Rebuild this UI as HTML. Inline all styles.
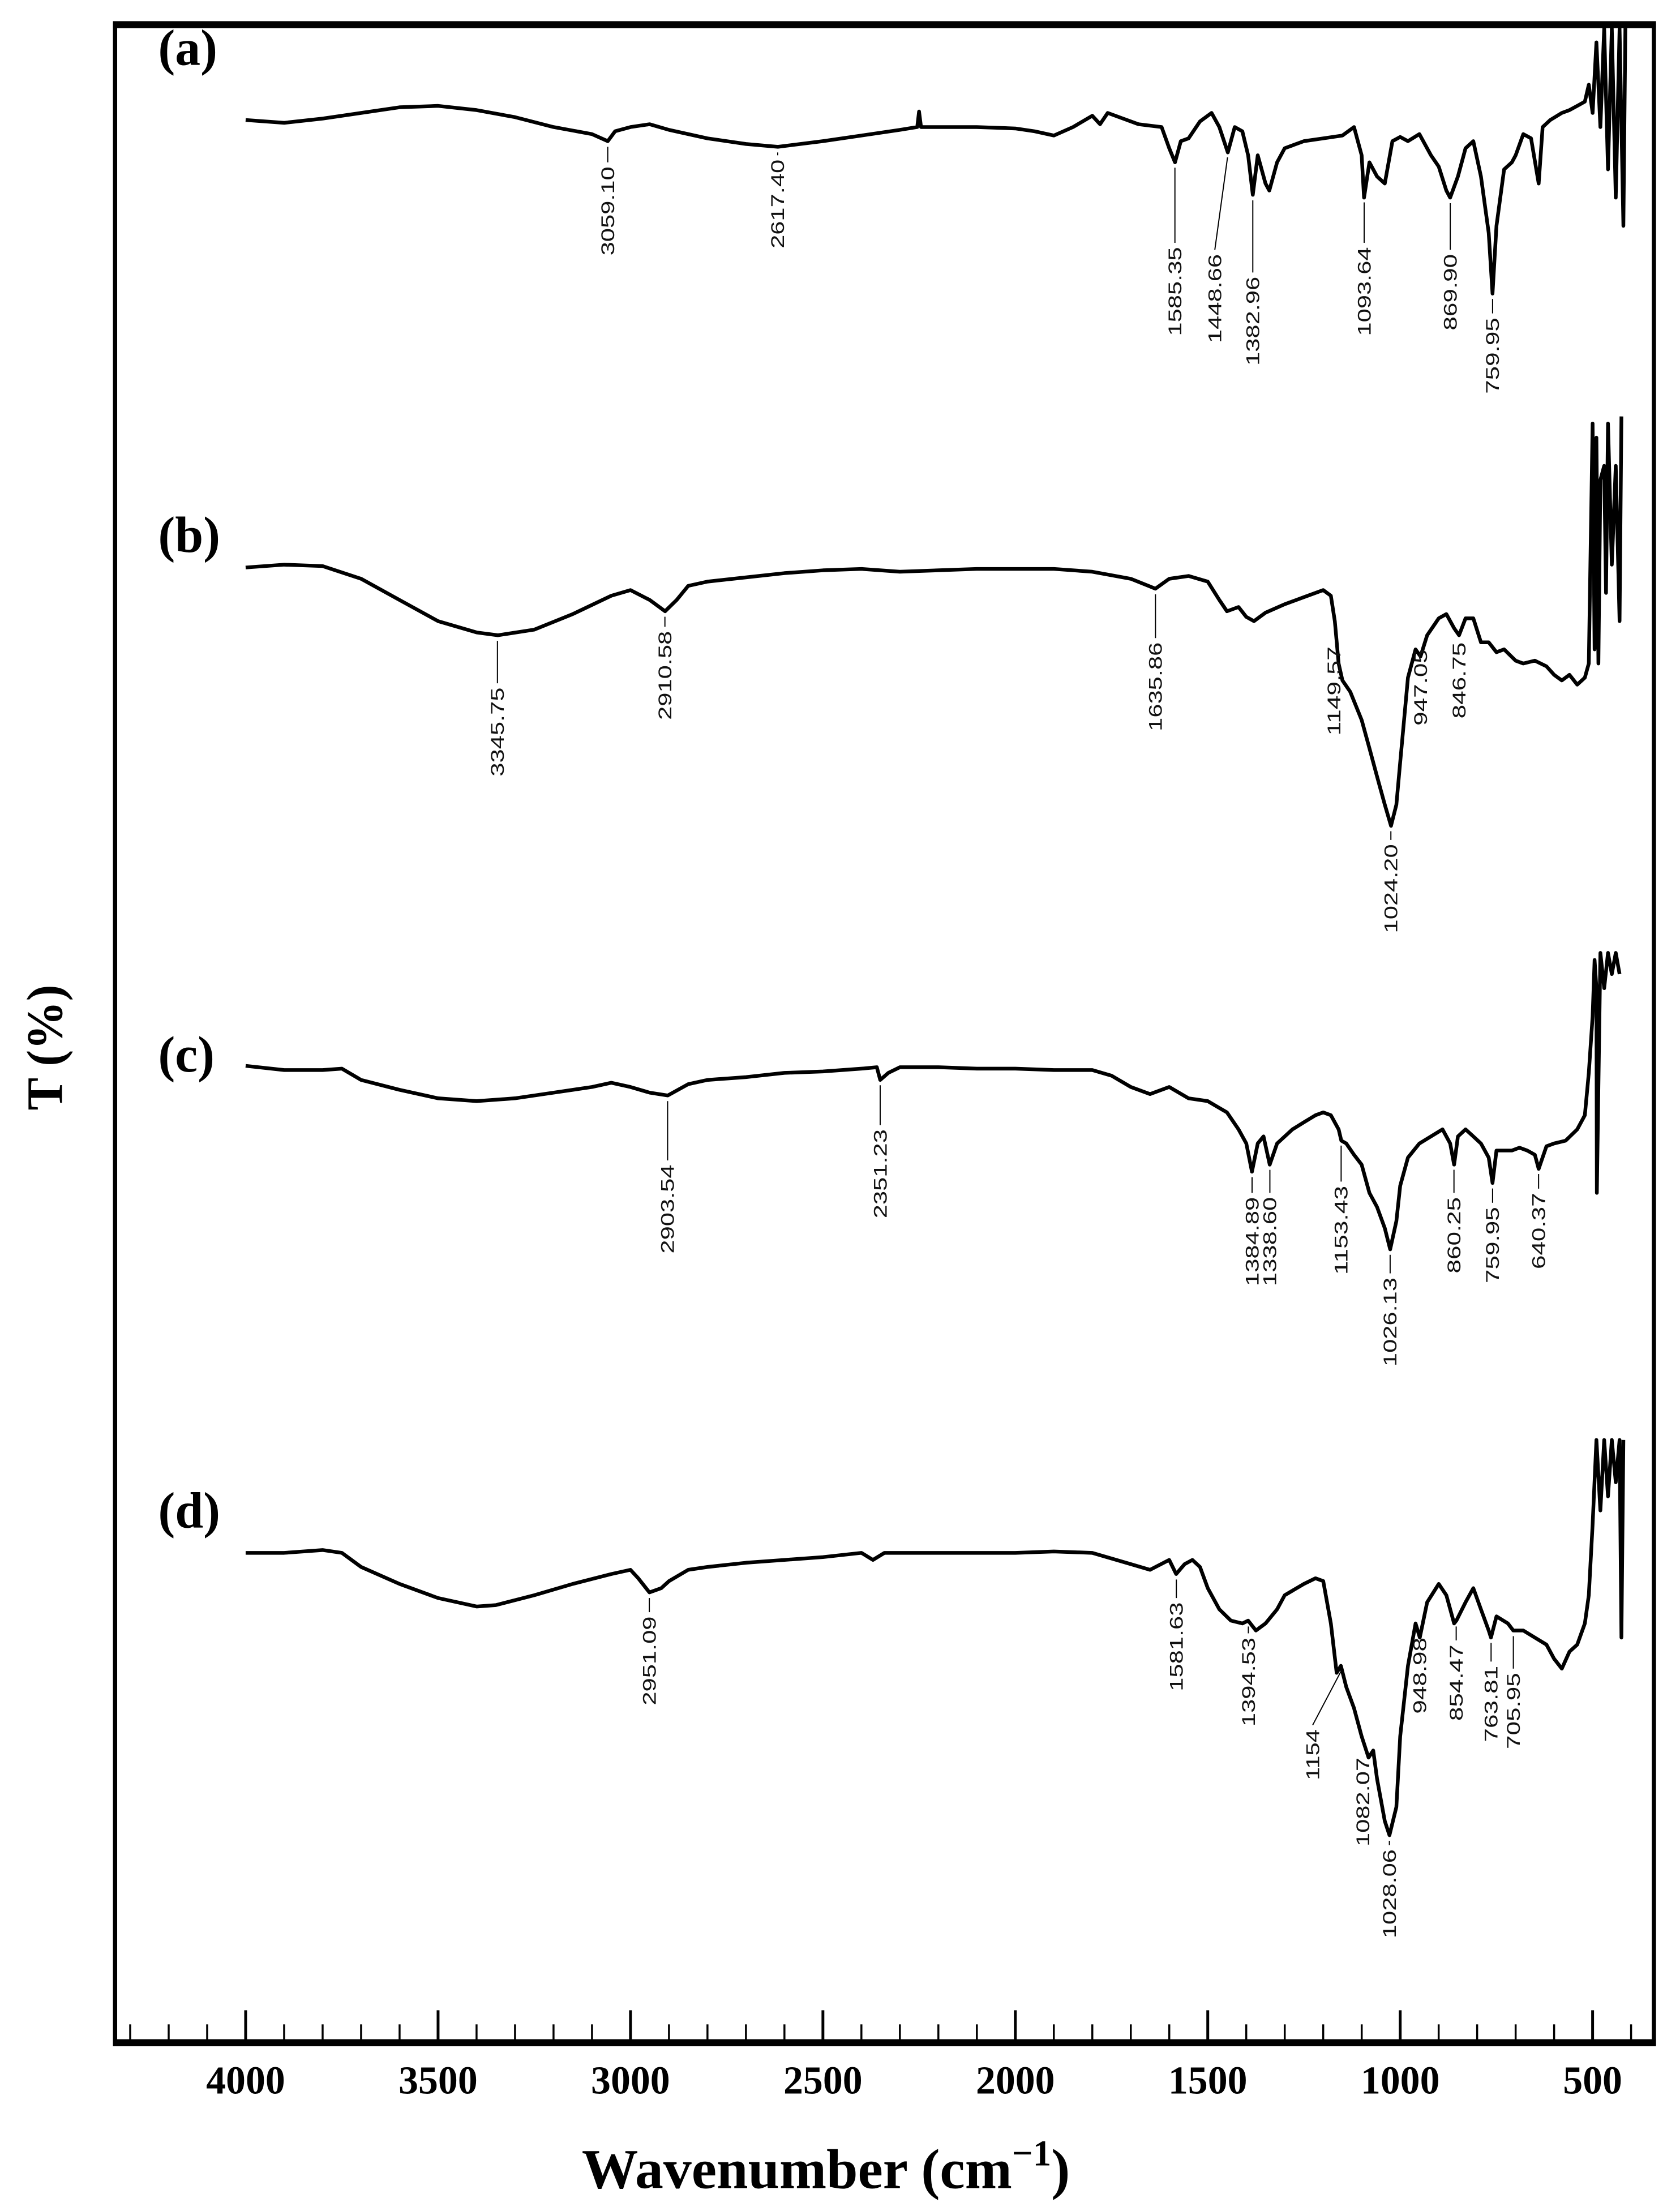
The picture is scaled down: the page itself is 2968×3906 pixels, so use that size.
<!DOCTYPE html>
<html><head><meta charset="utf-8"><style>
html,body{margin:0;padding:0;background:#fff}
svg{display:block}
</style></head><body>
<svg id="chart" width="2968" height="3906" viewBox="0 0 1190 1566.2" preserveAspectRatio="none" xmlns="http://www.w3.org/2000/svg">
<rect x="0" y="0" width="1190" height="1567" fill="#fff"/>
<g id="frame"></g>
<g id="ticks"></g>
<g id="spectra"></g>
<g id="annots"></g>
<text transform="translate(44,742) rotate(-90)" text-anchor="middle" font-family="Liberation Serif, serif" font-weight="bold" font-size="36" textLength="89" lengthAdjust="spacingAndGlyphs">T (%)</text>
<text x="585" y="1550" text-anchor="middle" font-family="Liberation Serif, serif" font-weight="bold" font-size="40">Wavenumber (cm<tspan dy="-16" font-size="26">−1</tspan><tspan dy="16">)</tspan></text>
<text x="112" y="46" font-family="Liberation Serif, serif" font-weight="bold" font-size="36">(a)</text>
<text x="112" y="391" font-family="Liberation Serif, serif" font-weight="bold" font-size="36">(b)</text>
<text x="112" y="759" font-family="Liberation Serif, serif" font-weight="bold" font-size="36">(c)</text>
<text x="112" y="1082" font-family="Liberation Serif, serif" font-weight="bold" font-size="36">(d)</text>
</svg>
<script>
const tickValues = [4000,3500,3000,2500,2000,1500,1000,500];
const tickLabels = ["4000","3500","3000","2500","2000","1500","1000","500"];

const wA = [4000,3900,3800,3700,3600,3500,3400,3300,3200,3100,3059,3040,3000,2950,2900,2800,2700,2617,2500,2400,2300,2255,2250,2245,2200,2100,2000,1950,1900,1850,1800,1780,1760,1720,1680,1620,1600,1585,1570,1550,1520,1490,1470,1448,1430,1410,1395,1383,1370,1350,1340,1320,1300,1250,1200,1150,1120,1100,1094,1080,1060,1040,1020,1000,980,950,920,900,880,870,850,830,810,790,770,760,750,730,710,700,680,660,640,630,610,580,560,540,520,510,500,490,480,470,460,450,440,430,420,415];
const tA = [0,-2,1,5,9,10,7,2,-5,-10,-15,-8,-5,-3,-7,-13,-17,-19,-15,-11,-7,-5,6,-5,-5,-5,-6,-8,-11,-5,3,-3,5,1,-3,-5,-20,-30,-15,-13,-1,5,-5,-23,-5,-8,-25,-53,-25,-45,-50,-30,-20,-15,-13,-11,-5,-25,-55,-30,-40,-45,-15,-12,-15,-10,-25,-33,-50,-55,-40,-20,-15,-40,-80,-123,-75,-35,-30,-25,-10,-13,-45,-5,0,5,7,10,13,25,5,55,-5,65,-35,65,-55,65,-75,65];

const wB = [4000,3900,3800,3700,3600,3500,3400,3345,3250,3150,3050,3000,2950,2910,2880,2850,2800,2700,2600,2500,2400,2300,2200,2100,2000,1900,1800,1700,1636,1600,1550,1500,1470,1450,1420,1400,1380,1350,1300,1250,1200,1180,1170,1160,1150,1130,1100,1080,1060,1040,1024,1010,1000,980,960,947,930,900,880,860,847,830,810,790,770,750,730,700,680,650,620,600,580,560,540,520,510,500,495,490,485,480,470,465,460,450,440,430,425];
const tB = [-2,0,-1,-10,-25,-40,-48,-50,-46,-35,-22,-18,-25,-33,-25,-15,-12,-9,-6,-4,-3,-5,-4,-3,-3,-3,-5,-10,-17,-10,-8,-12,-25,-33,-30,-37,-40,-34,-28,-23,-18,-22,-40,-70,-82,-90,-110,-130,-150,-170,-185,-170,-140,-80,-60,-65,-50,-38,-35,-45,-50,-38,-38,-55,-55,-62,-60,-68,-70,-68,-72,-78,-82,-78,-85,-80,-70,100,-60,90,-70,60,70,-20,100,0,70,-40,105];

const wC = [4000,3900,3800,3750,3700,3600,3500,3400,3300,3200,3100,3050,3000,2950,2903,2850,2800,2700,2600,2500,2400,2360,2351,2330,2300,2200,2100,2000,1900,1800,1750,1700,1650,1600,1550,1500,1450,1420,1400,1385,1370,1355,1339,1320,1280,1250,1220,1200,1180,1160,1153,1140,1120,1100,1080,1060,1040,1026,1010,1000,980,950,920,890,870,860,850,830,810,790,770,760,750,730,710,690,670,650,640,620,600,570,540,520,510,500,495,490,489,480,470,460,450,440,430];
const tC = [0,-3,-3,-2,-10,-17,-23,-25,-23,-19,-15,-12,-15,-19,-21,-13,-10,-8,-5,-4,-2,-1,-10,-5,-1,-1,-2,-2,-3,-3,-7,-15,-20,-15,-23,-25,-33,-45,-55,-75,-55,-50,-70,-55,-45,-40,-35,-33,-35,-45,-53,-55,-63,-70,-90,-100,-115,-130,-110,-85,-65,-55,-50,-45,-55,-70,-50,-45,-50,-55,-65,-83,-60,-60,-60,-58,-60,-63,-73,-57,-55,-53,-45,-35,-5,35,75,55,-90,80,55,80,65,80,65];

const wD = [4000,3900,3800,3750,3700,3600,3500,3400,3350,3250,3150,3050,3000,2980,2951,2920,2900,2850,2800,2700,2600,2500,2400,2370,2340,2300,2200,2100,2000,1900,1800,1700,1650,1600,1582,1560,1540,1520,1500,1470,1440,1410,1395,1375,1350,1320,1300,1250,1220,1200,1180,1165,1154,1140,1120,1100,1082,1070,1060,1040,1028,1010,1000,980,960,949,930,900,880,860,854,830,810,790,770,764,750,720,706,680,650,620,600,580,560,540,520,510,500,490,480,470,460,450,440,430,425,420];
const tD = [0,0,2,0,-10,-22,-32,-38,-37,-30,-22,-15,-12,-18,-28,-25,-20,-12,-10,-7,-5,-3,0,-5,0,0,0,0,0,1,0,-8,-12,-5,-15,-8,-5,-10,-25,-40,-48,-50,-48,-55,-50,-40,-30,-22,-18,-20,-50,-85,-80,-95,-110,-130,-145,-140,-160,-190,-200,-180,-130,-80,-50,-60,-35,-22,-30,-50,-48,-35,-25,-40,-55,-60,-45,-50,-55,-55,-60,-65,-75,-82,-70,-65,-50,-30,20,80,30,80,40,80,50,80,-60,80];

const peaksA = ["3059.10","2617.40","1585.35","1448.66","1382.96","1093.64","869.90","759.95"];
const peakWA = [3059.10,2617.40,1585.35,1448.66,1382.96,1093.64,869.90,759.95];
const peaksB = ["3345.75","2910.58","1635.86","1149.57","1024.20","947.05","846.75"];
const peakWB = [3345.75,2910.58,1635.86,1149.57,1024.20,947.05,846.75];
const peaksC = ["2903.54","2351.23","1384.89","1338.60","1153.43","1026.13","860.25","759.95","640.37"];
const peakWC = [2903.54,2351.23,1384.89,1338.60,1153.43,1026.13,860.25,759.95,640.37];
const peaksD = ["2951.09","1581.63","1394.53","1154","1082.07","1028.06","948.98","854.47","763.81","705.95"];
const peakWD = [2951.09,1581.63,1394.53,1154,1082.07,1028.06,948.98,854.47,763.81,705.95];

const NS = "http://www.w3.org/2000/svg";
const X0 = 174, XS = 0.2726;
function xScale(w){ return X0 + (4000 - w) * XS; }
function yScale(base, t){ return base - t; }
function mk(tag, attrs, parent){ const e = document.createElementNS(NS, tag); for (const k in attrs) e.setAttribute(k, attrs[k]); parent.appendChild(e); return e; }

const frame = document.getElementById('frame');
const fr = mk('rect', {x:81.5, y:17.5, width:1090, height:1429.5, fill:'none', stroke:'#000', 'stroke-width':3}, frame);


const topL = mk('line', {x1:80, x2:1173, y1:17.5, y2:17.5, stroke:'#000', 'stroke-width':5}, frame);


const botL = mk('line', {x1:80, x2:1173, y1:1447, y2:1447, stroke:'#000', 'stroke-width':5}, frame);



const tg = document.getElementById('ticks');
for (let w = 4300; w >= 400; w -= 100) {
  const major = w % 500 === 0;
  const ln = mk('line', {x1:xScale(w), x2:xScale(w), y1: major ? 1424 : 1434, y2:1446, stroke:'#000', 'stroke-width': major ? 2 : 1.4}, tg);
  
  
}
tickValues.forEach((v, i) => {
  const t = mk('text', {x:xScale(v), y:1483, 'text-anchor':'middle', 'font-family':'Liberation Serif, serif', 'font-weight':'bold', 'font-size':28}, tg);
  t.textContent = tickLabels[i];
  
  
});

const sg = document.getElementById('spectra');
const sets = [
  {w:wA, t:tA, base:85,  name:'spectrum-a', pk:peaksA, pw:peakWA, tops:[118,113,175,180,196,175,180,225], dx:[0,0,0,-9,0,0,0,0]},
  {w:wB, t:tB, base:400, name:'spectrum-b', pk:peaksB, pw:peakWB, tops:[487,447,455,458,598,460,455], dx:[0,0,0,-6,0,0,0]},
  {w:wC, t:tC, base:755, name:'spectrum-c', pk:peaksC, pw:peakWC, tops:[825,800,848,848,840,905,848,855,845], dx:[0,0,0,0,0,0,0,0,0]},
  {w:wD, t:tD, base:1100,name:'spectrum-d', pk:peaksD, pw:peakWD, tops:[1145,1135,1160,1225,1245,1310,1160,1165,1180,1185], dx:[0,0,0,-20,-4,0,0,0,0,0]}
];
function interpT(ws, ts, w){
  for (let i = 0; i < ws.length - 1; i++) {
    if (w <= ws[i] && w >= ws[i+1]) { const f = (ws[i] - w) / (ws[i] - ws[i+1] || 1); return ts[i] + f * (ts[i+1] - ts[i]); }
  }
  return ts[ts.length - 1];
}
const ag = document.getElementById('annots');
sets.forEach(s => {
  const d = s.w.map((w, i) => (i ? 'L' : 'M') + xScale(w).toFixed(1) + ',' + yScale(s.base, s.t[i]).toFixed(1)).join('');
  const p = mk('path', {d:d, fill:'none', stroke:'#000', 'stroke-width':2.6, 'stroke-linejoin':'round'}, sg);
  
  
  s.pk.forEach((lab, i) => {
    const px = xScale(s.pw[i]);
    const tx = px + s.dx[i];
    const py = yScale(s.base, interpT(s.w, s.t, s.pw[i])) + 4;
    const top = s.tops[i];
    if (top - 3 > py) {
      const ln = mk('line', {x1:px, y1:py, x2:tx, y2:top - 3, stroke:'#000', 'stroke-width':0.8}, ag);
      
      
    }
    const len = lab.length * 9;
    const t = mk('text', {transform:'translate(' + (tx + 4.5).toFixed(1) + ',' + top + ') rotate(-90)', 'text-anchor':'end', 'font-family':'Liberation Sans, sans-serif', 'font-size':13, textLength:len, lengthAdjust:'spacingAndGlyphs', fill:'#111'}, ag);
    t.textContent = lab;
    
    
  });
});
</script>
</body></html>
